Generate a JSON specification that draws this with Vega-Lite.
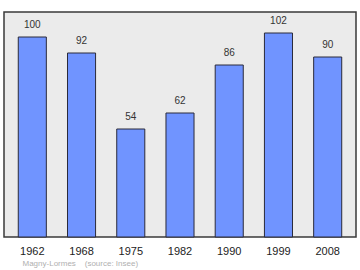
{
  "$schema": "https://vega.github.io/schema/vega-lite/v6.json",
  "width": 352,
  "height": 225,
  "autosize": {"type": "none"},
  "padding": {"left": 4, "top": 12, "right": 4, "bottom": 33},
  "background": "white",
  "config": {
    "view": {"fill": "#ebebeb", "stroke": "#3a3a3a", "strokeWidth": 1.5},
    "font": "Liberation Sans"
  },
  "data": {
    "values": [
      {"year": "1962", "value": 100},
      {"year": "1968", "value": 92},
      {"year": "1975", "value": 54},
      {"year": "1982", "value": 62},
      {"year": "1990", "value": 86},
      {"year": "1999", "value": 102},
      {"year": "2008", "value": 90}
    ]
  },
  "encoding": {
    "x": {
      "field": "year",
      "type": "ordinal",
      "sort": null,
      "scale": {"paddingInner": 0.43, "paddingOuter": 0.29},
      "axis": {
        "title": "Magny-Lormes\u00a0\u00a0\u00a0\u00a0(source: Insee)",
        "titleFont": "Liberation Sans",
        "titleFontSize": 8,
        "titleFontWeight": "normal",
        "titleColor": "#b0b0b0",
        "titleAnchor": "start",
        "titleAlign": "left",
        "titleX": 18,
        "titlePadding": 3,
        "labelAngle": 0,
        "labelFont": "Liberation Sans",
        "labelFontSize": 11,
        "labelColor": "#222222",
        "labelPadding": 8,
        "domain": false,
        "ticks": false,
        "grid": false
      }
    },
    "y": {
      "field": "value",
      "type": "quantitative",
      "scale": {"domain": [0, 112.5], "nice": false, "zero": true},
      "axis": null
    }
  },
  "layer": [
    {
      "mark": {"type": "bar", "fill": "#7094ff", "stroke": "#2a2a3a", "strokeWidth": 1}
    },
    {
      "mark": {"type": "text", "baseline": "bottom", "dy": -7, "fontSize": 10, "font": "Liberation Sans", "color": "#333333"},
      "encoding": {"text": {"field": "value", "type": "quantitative"}}
    }
  ]
}
